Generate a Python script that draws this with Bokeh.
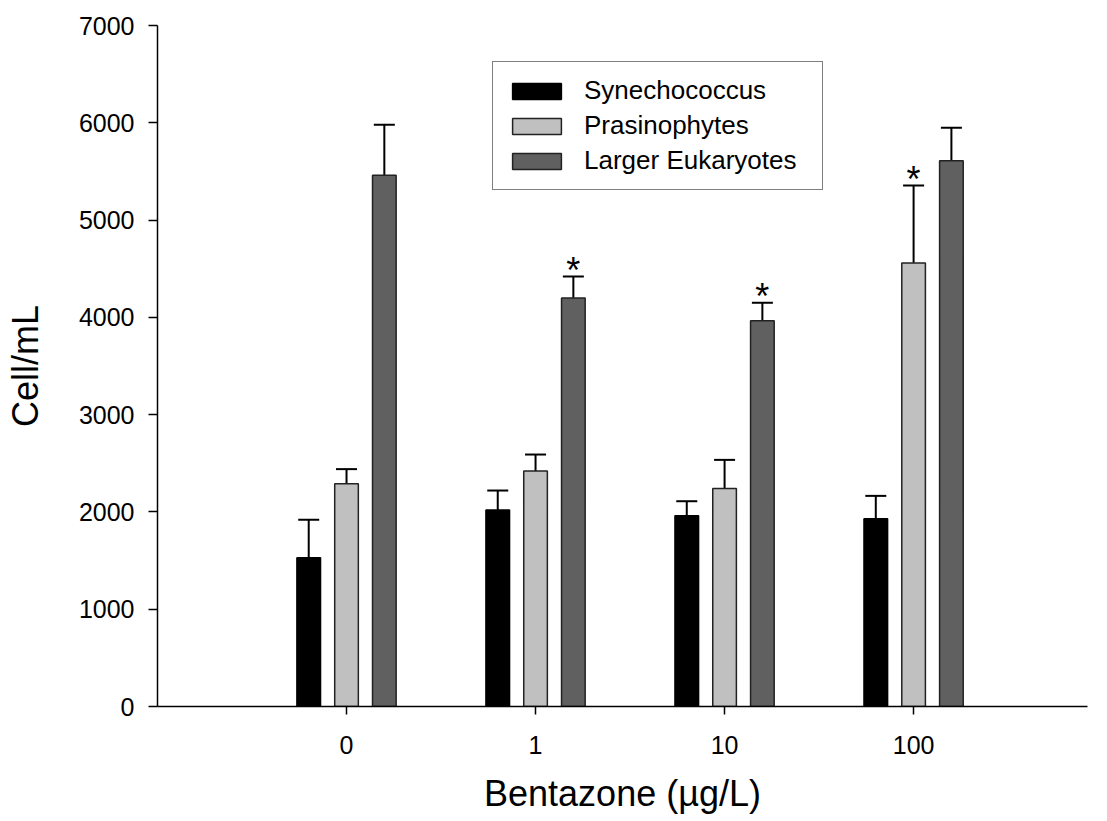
from bokeh.plotting import figure
from bokeh.models import (ColumnDataSource, Range1d, FixedTicker, Legend, LegendItem,
                          Whisker, TeeHead)
from bokeh.core.properties import value
from bokeh.embed import file_html
from bokeh.resources import INLINE

# ---- data ----
concentrations = ["0", "1", "10", "100"]
series_names = ["Synechococcus", "Prasinophytes", "Larger Eukaryotes"]
synechococcus = [1530, 2020, 1960, 1930]
synechococcus_err = [390, 200, 150, 235]
prasinophytes = [2290, 2420, 2240, 4560]
prasinophytes_err = [150, 170, 295, 795]
larger_eukaryotes = [5460, 4200, 3965, 5610]
larger_eukaryotes_err = [520, 220, 185, 340]
# significance markers (series index, concentration index)
significant = [(2, 1), (2, 2), (1, 3)]

colors = ["#000000", "#c0c0c0", "#606060"]
outline = ["#000000", "#222222", "#222222"]
offsets = [-0.2, 0.0, 0.2]
FONT = "Liberation Sans"

p = figure(width=1100, height=818, output_backend="svg", toolbar_location=None,
           x_range=Range1d(-1.0, 3.92), y_range=Range1d(0, 7000),
           min_border_left=157, min_border_right=13, min_border_top=25,
           min_border_bottom=112)
p.outline_line_color = None
p.xgrid.visible = False
p.ygrid.visible = False
p.background_fill_color = "white"
p.border_fill_color = "white"

all_vals = [synechococcus, prasinophytes, larger_eukaryotes]
all_errs = [synechococcus_err, prasinophytes_err, larger_eukaryotes_err]
renderers = []
for s, (vals, errs) in enumerate(zip(all_vals, all_errs)):
    xs = [i + offsets[s] for i in range(len(concentrations))]
    src = ColumnDataSource(dict(x=xs, top=vals, up=[v + e for v, e in zip(vals, errs)]))
    r = p.vbar(x="x", top="top", width=0.125, source=src, fill_color=colors[s],
               line_color=outline[s], line_width=1.5)
    renderers.append(r)
    w = Whisker(base="x", lower="top", upper="up", source=src, line_width=2,
                line_color="black",
                upper_head=TeeHead(size=21, line_width=2, line_color="black"),
                lower_head=None)
    p.add_layout(w)

# asterisks
ax, ay = [], []
for s, c in significant:
    ax.append(c + offsets[s])
    ay.append(all_vals[s][c] + all_errs[s][c])
p.text(x=ax, y=ay, text=["*"] * len(ax), text_align="center", text_baseline="alphabetic",
       y_offset=-6, text_font=value(FONT), text_font_size="36px", text_color="black")

# axes
p.yaxis.ticker = FixedTicker(ticks=list(range(0, 7001, 1000)))
p.xaxis.ticker = FixedTicker(ticks=list(range(len(concentrations))))
p.xaxis.major_label_overrides = {i: c for i, c in enumerate(concentrations)}
for ax_ in (p.xaxis[0], p.yaxis[0]):
    ax_.axis_line_width = 1.5
    ax_.axis_line_color = "black"
    ax_.major_tick_line_width = 1.5
    ax_.major_tick_line_color = "black"
    ax_.major_tick_in = 0
    ax_.minor_tick_line_color = None
    ax_.major_label_text_font = FONT
    ax_.major_label_text_font_size = "25px"
    ax_.major_label_text_color = "black"
    ax_.axis_label_text_font = FONT
    ax_.axis_label_text_font_size = "36px"
    ax_.axis_label_text_font_style = "normal"
    ax_.axis_label_text_color = "black"
p.yaxis.major_tick_out = 9
p.xaxis.major_tick_out = 8
p.yaxis.major_label_standoff = 14
p.xaxis.major_label_standoff = 21
p.yaxis.axis_label = "Cell/mL"
p.xaxis.axis_label = "Bentazone (µg/L)"
p.yaxis.axis_label_standoff = 30
p.xaxis.axis_label_standoff = 16

legend = Legend(items=[LegendItem(label=n, renderers=[r]) for n, r in zip(series_names, renderers)],
                location=(335, 516), padding=13, spacing=4, glyph_width=61, glyph_height=20,
                label_text_font=FONT, label_text_font_size="26px", label_standoff=17,
                label_text_color="black", label_width=225,
                border_line_color="black", border_line_width=1.2,
                background_fill_alpha=1.0, margin=0)
p.add_layout(legend, "center")

open("out.html", "w").write(file_html(p, INLINE))
